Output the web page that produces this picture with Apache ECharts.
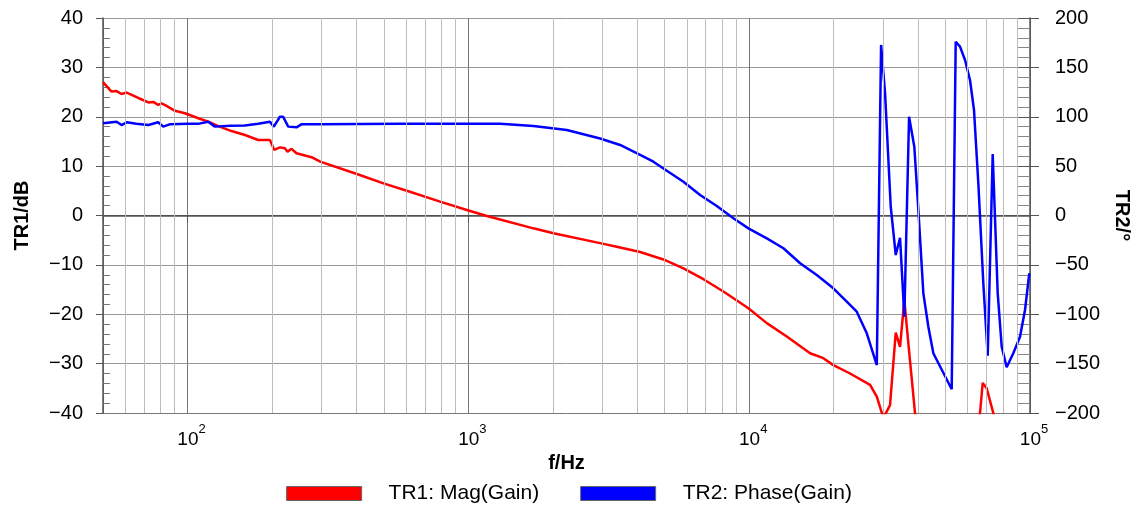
<!DOCTYPE html>
<html>
<head>
<meta charset="utf-8">
<script src="https://cdn.jsdelivr.net/npm/echarts@6/dist/echarts.min.js"></script>
<style>
html,body{margin:0;padding:0;background:#fff;}
#chart{width:1138px;height:517px;}
</style>
</head>
<body>
<div id="chart"></div>
<script>
// TR1: magnitude (dB) — frequency in Hz
const magFreq = [50,53.6,55.9,58.2,60.7,66.8,72.5,75.5,78.6,80.8,84.2,90.2,97.9,109.2,118.5,128.6,143.4,160.1,178.5,196.5,203.5,213.3,222.2,227,234.6,244.3,276.4,296.8,401,498.6,604,793,1001,1164,1705,2009,2946,3471,4089,4950,5833,6871,8095,9936,11554,13612,16474,18377,19940,22869,26943,28474,30057,31738,33261,34453,35688,36882,38954,40500,50000,60000,66374,67856,70115,74009,80000,100000];
const magDb = [27.0,25.1,25.2,24.6,24.9,23.8,22.9,23.0,22.4,22.7,22.2,21.2,20.7,19.7,19.0,18.1,17.1,16.3,15.3,15.3,13.3,13.8,13.6,12.9,13.5,12.6,11.8,10.9,8.4,6.5,5.0,2.8,1.0,-0.1,-2.6,-3.6,-5.6,-6.5,-7.4,-8.9,-10.7,-12.9,-15.4,-18.8,-21.8,-24.5,-27.9,-28.9,-30.3,-32.0,-34.3,-36.7,-41,-38.4,-23.7,-26.6,-17.1,-25.9,-40,-48,-55,-50,-40,-33.9,-35,-40,-50,-55];

// TR2: phase (deg)
const phaseFreq = [50,55.9,58.2,60.7,65.7,72.5,78.6,81.9,86.8,100,109,118.5,125.2,142,160,178.5,196.5,202.9,213.3,219,228.3,244.3,254.4,296.8,572,1298,1705,2242,2946,3471,4089,4560,5090,5833,6687,7668,8786,9936,11554,13243,15183,17404,19940,22260,24160,26230,28474,29490,30474,31920,33261,34453,35688,37100,38730,40040,41710,43450,45270,52630,54380,56340,58700,61160,63180,65470,68200,70710,73650,76740,79290,82600,87190,92130,96000,99430];
const phaseDeg = [93.4,95,91.6,94.4,93,91.6,94.4,90,92.5,92.8,92.8,95,90,91,91.2,93,95,90,100,100,90,89.3,92.3,92.5,93,93,90.6,86.6,78,71.4,61.3,54.5,45.4,34.2,20.8,9.6,-2.8,-13,-23.1,-33.2,-48.4,-60.3,-73.7,-87.3,-97.4,-119.3,-151.4,172.7,123.7,8.9,-40,-22.5,-102.5,100,69.7,5.6,-78.8,-112.6,-139.5,-176,176,171,157.5,137,106.8,32.6,-68.7,-142,62.3,-78.8,-132.9,-153.7,-139.5,-122.7,-95.7,-58.5];

const minorGridFreqs = [60,70,80,90,200,300,400,500,600,700,800,900,2000,3000,4000,5000,6000,7000,8000,9000,20000,30000,40000,50000,60000,70000,80000,90000];
const seriesNames = ['TR1: Mag(Gain)','TR2: Phase(Gain)'];

const zip = (a,b) => a.map((v,i)=>[v,b[i]]);
const minus = v => v < 0 ? '\u2212' + (-v) : String(v);
const FONT = 'Liberation Sans';
const FS = 20;

const chart = echarts.init(document.getElementById('chart'));
chart.setOption({
  animation: false,
  textStyle: {fontFamily: FONT},
  grid: {left: 103, right: 108, top: 18, bottom: 104, containLabel: false, outerBoundsMode: 'none'},
  legend: {
    data: seriesNames,
    bottom: 8,
    left: 'center',
    itemWidth: 75,
    itemHeight: 14,
    itemGap: 41,
    icon: 'rect',
    itemStyle: {borderColor: '#666', borderWidth: 1},
    textStyle: {fontSize: 21, color: '#000', fontFamily: FONT, padding: [0,0,0,22]}
  },
  xAxis: {
    type: 'log',
    logBase: 10,
    min: 50,
    max: 100000,
    name: 'f/Hz',
    nameLocation: 'middle',
    nameGap: 40,
    nameTextStyle: {fontSize: FS, fontWeight: 'bold', color: '#000', fontFamily: FONT},
    axisLine: {lineStyle: {color: '#555', width: 1.5}},
    axisTick: {show: true, inside: false, length: 7, lineStyle: {color: '#555'}},
    splitLine: {show: true, lineStyle: {color: '#777', width: 1}},
    axisLabel: {
      margin: 10,
      showMinLabel: true, showMaxLabel: true,
      formatter: function (v) {
        const e = Math.log10(v);
        if (Math.abs(e - Math.round(e)) > 1e-6) return '';
        return '{p|}{b|10}{s|' + Math.round(e) + '}';
      },
      rich: {
        p: {width: 8, fontSize: 13},
        b: {fontSize: FS - 1, color: '#000', fontFamily: FONT, verticalAlign: 'bottom', lineHeight: 26},
        s: {fontSize: 13, color: '#000', fontFamily: FONT, verticalAlign: 'top'}
      }
    }
  },
  yAxis: [
    {
      type: 'value', min: -40, max: 40, interval: 10,
      name: 'TR1/dB', nameLocation: 'middle', nameGap: 71,
      nameTextStyle: {fontSize: FS, fontWeight: 'bold', color: '#000', fontFamily: FONT},
      axisLine: {show: true, lineStyle: {color: '#555', width: 1.5}},
      axisTick: {show: true, inside: false, length: 7, lineStyle: {color: '#555'}},
      splitLine: {show: true, lineStyle: {color: ['#777','#999','#999','#999','#444','#999','#999','#999','#999'], width: 1}},
      axisLabel: {fontSize: FS, color: '#000', margin: 20, formatter: minus, showMinLabel: true, showMaxLabel: true}
    },
    {
      type: 'value', min: -200, max: 200, interval: 50, position: 'right',
      name: 'TR2/°', nameLocation: 'middle', nameGap: 82, nameRotate: -90,
      nameTextStyle: {fontSize: FS, fontWeight: 'bold', color: '#000', fontFamily: FONT},
      axisLine: {show: true, lineStyle: {color: '#555', width: 1.5}},
      axisTick: {show: true, inside: false, length: 9, lineStyle: {color: '#555'}},
      splitLine: {show: false},
      axisLabel: {fontSize: FS, color: '#000', margin: 25, formatter: minus, showMinLabel: true, showMaxLabel: true}
    },
    {
      // overlay: inner minor ticks on left axis
      type: 'value', min: -40, max: 40, interval: 10, position: 'left',
      axisLine: {show: false}, axisLabel: {show: false}, splitLine: {show: false},
      axisTick: {show: false, inside: true},
      minorTick: {show: true, splitNumber: 5, length: 7, lineStyle: {color: '#777'}}
    },
    {
      // overlay: inner ticks on right axis
      type: 'value', min: -200, max: 200, interval: 50, position: 'right',
      axisLine: {show: false}, axisLabel: {show: false}, splitLine: {show: false},
      axisTick: {show: true, inside: true, length: 12, lineStyle: {color: '#555'}},
      minorTick: {show: true, splitNumber: 5, length: 12, lineStyle: {color: '#888'}}
    }
  ],
  series: [
    {
      name: 'minor-grid', type: 'line', data: [], z: 1, silent: true,
      markLine: {
        silent: true, symbol: ['none','none'], animation: false,
        label: {show: false},
        lineStyle: {color: '#bdbdbd', type: 'solid', width: 1},
        emphasis: {disabled: true},
        data: minorGridFreqs.map(f => ({xAxis: f}))
      }
    },
    {
      name: seriesNames[0], type: 'line', yAxisIndex: 0, z: 3,
      data: zip(magFreq, magDb), showSymbol: false, symbol: 'none',
      clip: true,
      lineStyle: {color: '#ff0000', width: 2.5},
      itemStyle: {color: '#ff0000'}
    },
    {
      name: seriesNames[1], type: 'line', yAxisIndex: 1, z: 4,
      data: zip(phaseFreq, phaseDeg), showSymbol: false, symbol: 'none',
      clip: true,
      lineStyle: {color: '#0000ff', width: 2.5},
      itemStyle: {color: '#0000ff'}
    }
  ]
});
</script>
</body>
</html>
